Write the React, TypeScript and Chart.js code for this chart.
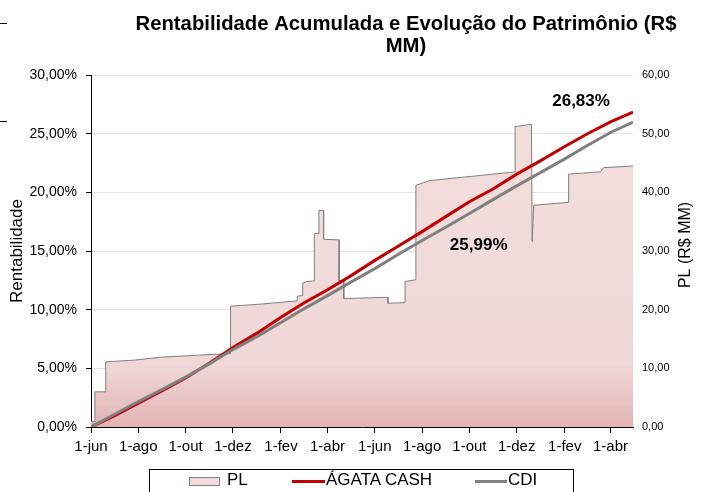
import React, { useEffect, useRef } from 'react';
import { Chart, registerables } from 'chart.js';

Chart.register(...registerables);

const FONT = "'Liberation Sans', Arial, Helvetica, sans-serif";

// ---------- DATA ----------
const titleLines = ['Rentabilidade Acumulada e Evolução do Patrimônio (R$', 'MM)'];
const leftAxisTitle = 'Rentabilidade';
const rightAxisTitle = 'PL (R$ MM)';
const seriesLabels = ['PL', 'ÁGATA CASH', 'CDI'];

const START_DATE = '2015-06-01';
const END_DATE = '2017-04-30';

const tickDates = [
  '2015-06-01', '2015-08-01', '2015-10-01', '2015-12-01', '2016-02-01', '2016-04-01',
  '2016-06-01', '2016-08-01', '2016-10-01', '2016-12-01', '2017-02-01', '2017-04-01',
];
const tickLabels = [
  '1-jun', '1-ago', '1-out', '1-dez', '1-fev', '1-abr',
  '1-jun', '1-ago', '1-out', '1-dez', '1-fev', '1-abr',
];

const lineDates = [
  '2015-06-01', '2015-07-01', '2015-08-01', '2015-09-01', '2015-10-01', '2015-11-01',
  '2015-12-01', '2016-01-01', '2016-02-01', '2016-03-01', '2016-04-01', '2016-05-01',
  '2016-06-01', '2016-07-01', '2016-08-01', '2016-09-01', '2016-10-01', '2016-11-01',
  '2016-12-01', '2017-01-01', '2017-02-01', '2017-03-01', '2017-04-01', '2017-04-30',
];
const agataValues = [
  0, 0.95, 2.03, 3.1, 4.18, 5.45,
  6.78, 8.0, 9.35, 10.55, 11.7, 12.88,
  14.2, 15.4, 16.65, 17.95, 19.2, 20.3,
  21.55, 22.7, 23.9, 24.95, 26.0, 26.83,
];
const cdiValues = [
  0, 1.07, 2.17, 3.2, 4.25, 5.4,
  6.6, 7.7, 8.9, 10.05, 11.2, 12.35,
  13.5, 14.7, 15.9, 17.05, 18.2, 19.4,
  20.55, 21.7, 22.85, 23.95, 25.1, 25.99,
];

const plDates = [
  '2015-06-01', '2015-06-06', '2015-06-06', '2015-06-20', '2015-06-20', '2015-07-27',
  '2015-08-30', '2015-11-09', '2015-11-28', '2015-11-28', '2016-01-02', '2016-02-22',
  '2016-02-22', '2016-02-29', '2016-02-29', '2016-03-05', '2016-03-15', '2016-03-15',
  '2016-03-21', '2016-03-21', '2016-03-27', '2016-03-27', '2016-04-16', '2016-04-16',
  '2016-04-22', '2016-04-22', '2016-06-16', '2016-06-18', '2016-06-18', '2016-07-10',
  '2016-07-10', '2016-07-24', '2016-07-24', '2016-08-02', '2016-08-11', '2016-11-23',
  '2016-11-29', '2016-11-29', '2016-12-20', '2016-12-21', '2016-12-23', '2017-02-06',
  '2017-02-06', '2017-03-19', '2017-03-23', '2017-04-30',
];
const plValues = [
  0.9, 0.9, 6.0, 6.0, 11.1, 11.4,
  11.9, 12.4, 12.5, 20.6, 20.9, 21.5,
  22.3, 22.4, 24.5, 24.8, 24.9, 33.0,
  33.0, 36.9, 36.9, 32.0, 31.9, 24.9,
  24.9, 21.9, 22.1, 22.1, 21.1, 21.2,
  24.8, 25.1, 41.2, 41.6, 42.0, 43.4,
  43.5, 51.2, 51.6, 31.6, 37.8, 38.3,
  43.1, 43.5, 44.2, 44.5,
];

const finalLabels = ['26,83%', '25,99%'];
const finalLabelDates = ['2017-02-22', '2016-10-13'];
const finalLabelValues = [27.36, 15.09];

// ---------- HELPERS ----------
const DAY = 86400000;
const dayIndex = (d: string) => Math.round((Date.parse(d) - Date.parse(START_DATE)) / DAY);
const fmt = (v: number, dec = 2) => v.toFixed(dec).replace('.', ',');

const RED = '#C00000';
const GRAY = '#808080';
const PL_FILL = '#F2DCDB';

const textPlugin = {
  id: 'customTexts',
  afterDraw(chart: any) {
    const { ctx, scales } = chart;
    ctx.save();
    ctx.fillStyle = '#000';
    ctx.textAlign = 'center';
    ctx.textBaseline = 'alphabetic';
    ctx.font = `bold 20.3px ${FONT}`;
    ctx.fillText(titleLines[0], 406, 30);
    ctx.fillText(titleLines[1], 406, 52);

    ctx.font = `17px ${FONT}`;
    ctx.save();
    ctx.translate(22, 251);
    ctx.rotate(-Math.PI / 2);
    ctx.fillText(leftAxisTitle, 0, 0);
    ctx.restore();

    ctx.font = `16px ${FONT}`;
    ctx.save();
    ctx.translate(690, 245);
    ctx.rotate(-Math.PI / 2);
    ctx.fillText(rightAxisTitle, 0, 0);
    ctx.restore();

    ctx.font = `bold 17px ${FONT}`;
    finalLabels.forEach((t, i) => {
      const x = scales.x.getPixelForValue(dayIndex(finalLabelDates[i]));
      const y = scales.y.getPixelForValue(finalLabelValues[i]);
      ctx.fillText(t, x, y);
    });
    ctx.restore();
  },
};

export default function App() {
  const canvasRef = useRef<HTMLCanvasElement | null>(null);

  useEffect(() => {
    const canvas = canvasRef.current;
    if (!canvas) return;
    Chart.defaults.font.family = FONT;
    Chart.defaults.color = '#000';

    const plData = plDates.map((d, i) => ({ x: dayIndex(d), y: plValues[i] }));
    const agataData = lineDates.map((d, i) => ({ x: dayIndex(d), y: agataValues[i] }));
    const cdiData = lineDates.map((d, i) => ({ x: dayIndex(d), y: cdiValues[i] }));

    const chart = new Chart(canvas, {
      type: 'line',
      data: {
        datasets: [
          {
            label: seriesLabels[2],
            data: cdiData,
            borderColor: GRAY,
            borderWidth: 3,
            pointRadius: 0,
            fill: false,
            yAxisID: 'y',
            order: 0,
          },
          {
            label: seriesLabels[1],
            data: agataData,
            borderColor: RED,
            borderWidth: 3,
            pointRadius: 0,
            fill: false,
            yAxisID: 'y',
            order: 1,
          },
          {
            label: seriesLabels[0],
            data: plData,
            borderColor: '#7F7F7F',
            borderWidth: 1,
            pointRadius: 0,
            fill: 'origin',
            yAxisID: 'y1',
            order: 2,
            backgroundColor: (c: any) => {
              const ch = c.chart;
              const area = ch.chartArea;
              if (!area) return PL_FILL;
              const g = ch.ctx.createLinearGradient(0, area.top, 0, area.bottom);
              g.addColorStop(0, '#F3DFDE');
              g.addColorStop(0.82, '#F0D8D8');
              g.addColorStop(1, '#E3B3B3');
              return g;
            },
          },
        ],
      },
      options: {
        animation: false,
        responsive: false,
        devicePixelRatio: 1,
        parsing: false as any,
        normalized: true,
        layout: { padding: { top: 75, left: 0, right: 0, bottom: 0 } },
        elements: { line: { tension: 0 }, point: { radius: 0 } },
        plugins: {
          legend: { display: false },
          tooltip: { enabled: false },
          title: { display: false },
        },
        scales: {
          x: {
            type: 'linear',
            min: 0,
            max: dayIndex(END_DATE),
            afterBuildTicks: (axis: any) => {
              axis.ticks = tickDates.map((d) => ({ value: dayIndex(d) }));
            },
            afterFit: (axis: any) => {
              axis.height = 65;
            },
            ticks: {
              autoSkip: false,
              maxRotation: 0,
              minRotation: 0,
              padding: 5,
              color: '#000',
              font: { size: 15 },
              callback: (_v: any, i: number) => tickLabels[i],
            },
            grid: { drawOnChartArea: false, drawTicks: true, tickLength: 6, tickColor: '#000' },
            border: { color: '#000', width: 1 },
          },
          y: {
            position: 'left',
            min: 0,
            max: 30,
            afterFit: (axis: any) => {
              axis.width = 91;
            },
            ticks: {
              stepSize: 5,
              padding: 9,
              color: '#000',
              font: { size: 14 },
              callback: (v: any) => fmt(Number(v)) + '%',
            },
            grid: { color: '#E3E3E3', tickColor: '#000', tickLength: 5, lineWidth: 1 },
            border: { color: '#000', width: 1 },
          },
          y1: {
            position: 'right',
            min: 0,
            max: 60,
            afterFit: (axis: any) => {
              axis.width = 68;
            },
            ticks: {
              stepSize: 10,
              padding: 9,
              color: '#000',
              font: { size: 11 },
              callback: (v: any) => fmt(Number(v)),
            },
            grid: { display: false, drawTicks: false, drawOnChartArea: false },
            border: { display: false },
          },
        },
      } as any,
      plugins: [textPlugin],
    });

    return () => chart.destroy();
  }, []);

  const legendText: React.CSSProperties = {
    position: 'absolute',
    top: 471,
    fontFamily: FONT,
    fontSize: 17,
    lineHeight: '17px',
    color: '#000',
    whiteSpace: 'nowrap',
  };

  return (
    <div
      style={{
        position: 'fixed',
        left: 0,
        top: 0,
        width: 701,
        height: 492,
        overflow: 'hidden',
        background: '#fff',
      }}
    >
      <canvas ref={canvasRef} width={701} height={492} style={{ position: 'absolute', left: 0, top: 0, width: 701, height: 492 }} />
      <div style={{ position: 'absolute', left: 0, top: 23, width: 7, height: 1, background: '#000' }} />
      <div style={{ position: 'absolute', left: 0, top: 121, width: 7, height: 1, background: '#000' }} />
      <div
        style={{
          position: 'absolute',
          left: 149,
          top: 469,
          width: 425,
          height: 40,
          border: '1px solid #000',
          boxSizing: 'border-box',
        }}
      />
      <div
        style={{
          position: 'absolute',
          left: 189,
          top: 477,
          width: 31,
          height: 9,
          background: PL_FILL,
          border: '1px solid #808080',
          boxSizing: 'border-box',
        }}
      />
      <div style={{ ...legendText, left: 227 }}>{seriesLabels[0]}</div>
      <div style={{ position: 'absolute', left: 292, top: 480, width: 33, height: 3, background: RED }} />
      <div style={{ ...legendText, left: 326 }}>{seriesLabels[1]}</div>
      <div style={{ position: 'absolute', left: 475, top: 480, width: 32, height: 3, background: GRAY }} />
      <div style={{ ...legendText, left: 508 }}>{seriesLabels[2]}</div>
    </div>
  );
}
